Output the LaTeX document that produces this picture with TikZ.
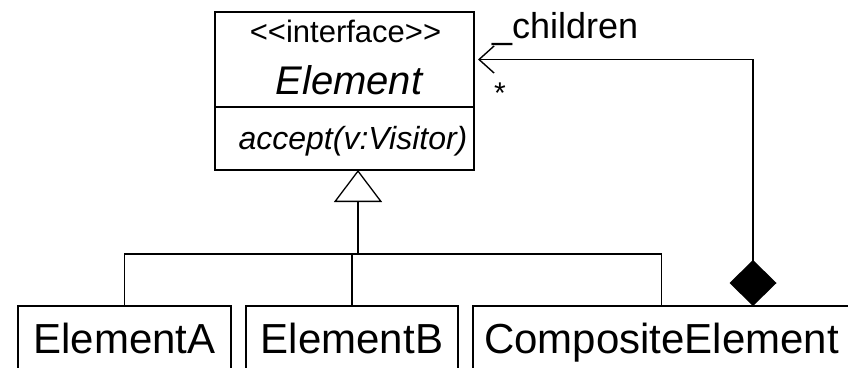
\documentclass[tikz,border=0pt]{standalone}
\usepackage{fontspec}
\setmainfont{Liberation Sans}[Ligatures=TeXOff]
\usetikzlibrary{arrows.meta}

\tikzset{
  umlbox/.style={draw, line width=1.3pt, inner sep=0pt, outer sep=0pt},
  leafbox/.style={umlbox, minimum height=73pt, text height=30pt, text depth=9pt,
    font=\fontsize{42}{50}\selectfont},
  txt/.style={inner sep=0pt},
  conn/.style={line width=1.4pt},
}

\begin{document}
\begin{tikzpicture}[x=1pt, y=-1pt]
  \clip (0,0) rectangle (848,367);
  % interface box
  \node[umlbox, minimum width=259pt, minimum height=95pt] (head) at (344.5,59.5) {};
  \node[umlbox, minimum width=259pt, minimum height=63pt, anchor=north] (ops) at (head.south) {};
  \node[txt, anchor=base, font=\fontsize{31}{37}\selectfont] (stereo) at (345.5,42) {<<interface>>};
  \node[txt, anchor=base, font=\fontsize{40}{48}\selectfont\itshape] (ename) at (349,94) {Element};
  \node[txt, anchor=base, font=\fontsize{32}{38}\selectfont\itshape] (accept) at (353,149) {accept(v:Visitor)};
  % concrete elements
  \node[leafbox, minimum width=213pt] (elA) at (124.5,342.5) {ElementA};
  \node[leafbox, minimum width=212pt] (elB) at (352,342.5) {ElementB};
  \node[leafbox, minimum width=377pt] (elC) at (661.5,342.5) {CompositeElement};
  % generalization
  \coordinate (bus) at (358,254);
  \draw[conn] (elA.north) |- (bus) -| (elC.north);
  \draw[conn] (elB.north) -- (elB.north |- bus);
  \draw[conn, -{Triangle[open, length=32pt, width=48pt, line width=1.3pt]}] (bus) -- (bus |- ops.south);
  % composition
  \coordinate (whole) at (753,306);
  \draw[conn, {Diamond[length=46pt, width=47pt]}-{Straight Barb[length=15pt, width=27pt]}]
    (whole) |- ([xshift=4pt]head.east);
  \node[txt, anchor=base west, font=\fontsize{36}{43}\selectfont] (role) at (492,38) {\_children};
  \node[txt, anchor=base, font=\fontsize{30}{36}\selectfont] (mult) at (500,103) {*};
\end{tikzpicture}
\end{document}
